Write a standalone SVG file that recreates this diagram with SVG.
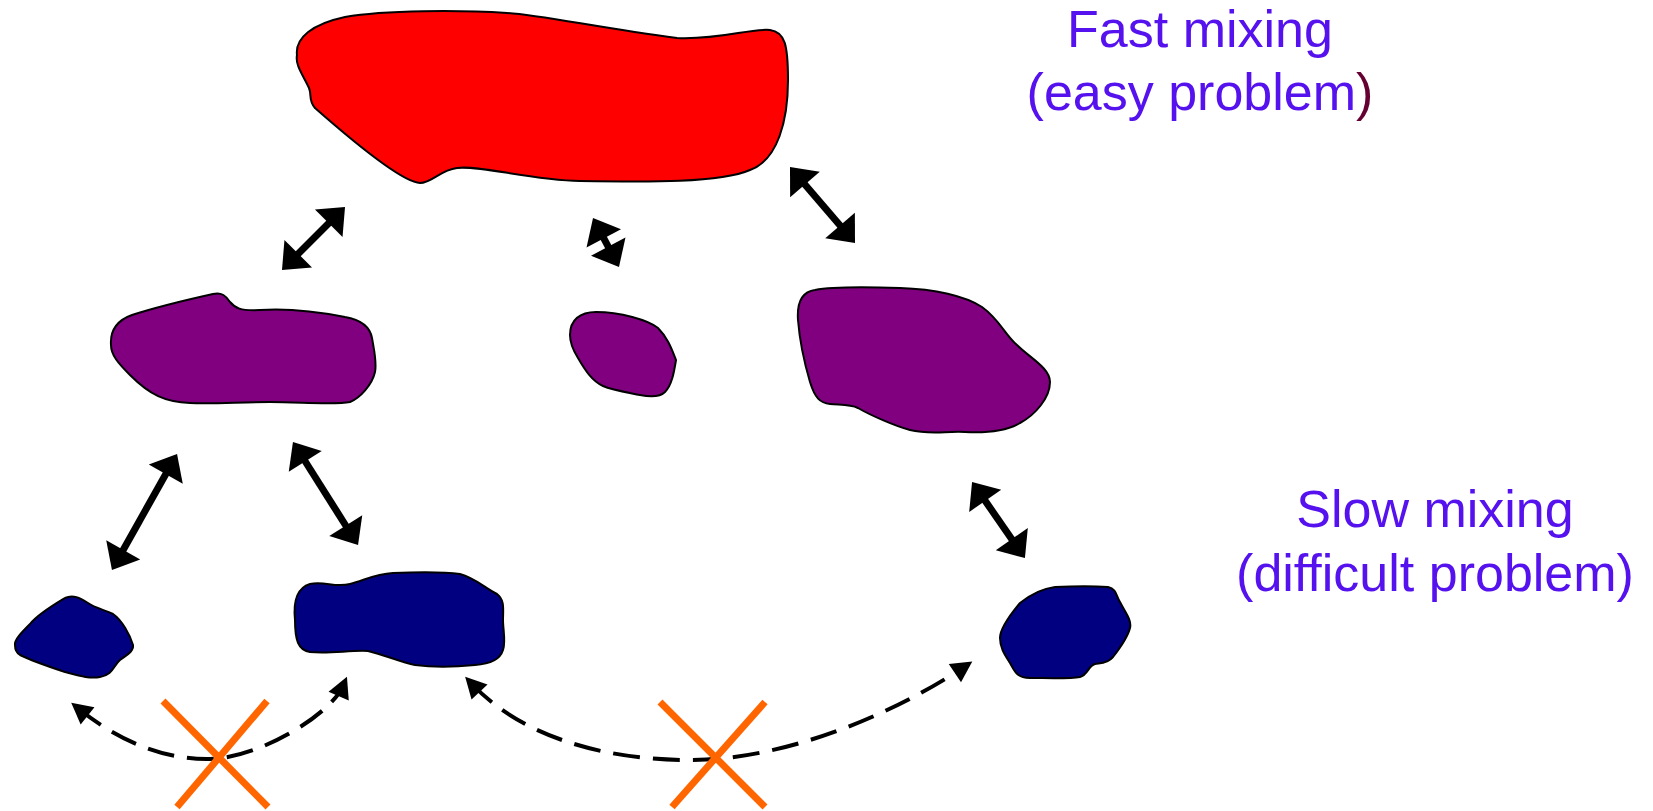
<svg xmlns="http://www.w3.org/2000/svg" width="1653" height="811" viewBox="0 0 1653 811">
<style>
.blob{stroke:#000;stroke-width:2;stroke-linejoin:round}
.red{fill:#ff0000}
.purple{fill:#800080}
.blue{fill:#000080}
.dbl{fill:none;stroke:#000;stroke-width:7;marker-start:url(#hs);marker-end:url(#he)}
.dash{fill:none;stroke:#000;stroke-width:4;stroke-dasharray:27 13;marker-start:url(#ds);marker-end:url(#de)}
.cross{stroke:#ff6600;stroke-width:7;fill:none}
.lbl{font-family:"Liberation Sans",Arial,sans-serif;font-size:52px;fill:#5511ee;text-anchor:middle}
</style>
<defs>
<marker id="he" markerUnits="userSpaceOnUse" markerWidth="24" markerHeight="40" refX="7" refY="19.5" orient="auto" overflow="visible"><path d="M0,0 L23,19.5 L0,39 Z" fill="#000"/></marker>
<marker id="hs" markerUnits="userSpaceOnUse" markerWidth="24" markerHeight="40" refX="16" refY="19.5" orient="auto" overflow="visible"><path d="M0,19.5 L23,0 L23,39 Z" fill="#000"/></marker>
<marker id="de" markerUnits="userSpaceOnUse" markerWidth="22" markerHeight="23" refX="11" refY="11" orient="auto" overflow="visible"><path d="M0,0 L21,11 L0,22 Z" fill="#000"/></marker>
<marker id="ds" markerUnits="userSpaceOnUse" markerWidth="22" markerHeight="23" refX="10" refY="11" orient="auto" overflow="visible"><path d="M0,11 L21,0 L21,22 Z" fill="#000"/></marker>
</defs>
<g id="red-blob"><path class="blob red" d="M297,55 C295,38 312,24 345,17 C385,10 460,10 507,13 C540,15 600,28 677,38 C720,40 750,28 770,30 C785,32 788,45 788,80 C788,120 778,160 750,170 C720,183 650,182 580,181 C530,180 480,165 457,168 C440,170 432,183 420,183 C400,182 340,130 315,108 C308,100 312,95 309,88 C303,75 295,65 297,55 Z"/></g>
<g id="purple-left"><path class="blob purple" d="M111,345 C110,330 118,320 132,315 C160,306 195,298 213,294 C222,292 226,296 230,302 C235,308 240,311 260,310 C290,308 320,312 345,317 C362,320 370,327 372,338 C374,350 377,362 375,372 C372,385 360,398 350,402 C335,405 300,402 270,402 C240,402 215,404 190,403 C165,402 150,395 130,375 C118,363 111,355 111,345 Z"/></g>
<g id="purple-mid"><path class="blob purple" d="M570,335 C570,320 580,312 596,312 C620,312 648,320 658,328 C668,338 672,350 676,360 C674,372 672,385 665,392 C660,397 650,397 640,395 C625,392 612,390 603,386 C592,381 585,370 578,358 C573,350 570,343 570,335 Z"/></g>
<g id="purple-right"><path class="blob purple" d="M798,320 C797,305 800,292 815,290 C835,286 870,287 900,288 C935,289 965,296 982,307 C1000,320 1005,335 1017,345 C1030,358 1050,368 1050,382 C1050,398 1035,415 1020,423 C1005,432 985,433 965,432 C945,431 930,435 910,430 C895,426 870,415 858,408 C850,404 840,405 830,404 C820,403 815,398 810,382 C805,365 800,345 798,320 Z"/></g>
<g id="blue-left"><path class="blob blue" d="M15,645 C14,640 22,632 30,624 C38,614 55,604 65,598 C73,594 80,598 88,603 C95,608 105,610 113,614 C122,620 130,635 133,645 C134,652 125,656 120,660 C113,666 113,675 100,677 C90,679 80,676 65,672 C50,667 30,660 20,655 C15,652 15,648 15,645 Z"/></g>
<g id="blue-mid"><path class="blob blue" d="M295,620 C293,600 297,588 310,584 C325,581 335,588 350,584 C365,580 375,574 393,573 C420,572 445,572 460,574 C475,578 485,588 497,594 C505,600 503,610 503,620 C503,630 506,642 503,650 C500,660 490,664 475,665 C455,667 430,667 415,665 C400,662 385,655 368,651 C350,650 330,654 310,652 C298,650 295,640 295,620 Z"/></g>
<g id="blue-right"><path class="blob blue" d="M1000,638 C1000,628 1010,615 1020,603 C1030,595 1040,589 1055,587 C1075,586 1095,586 1108,587 C1117,589 1116,596 1120,602 C1125,612 1132,620 1130,628 C1128,636 1120,648 1113,657 C1107,664 1100,663 1095,664 C1088,666 1088,675 1080,677 C1070,679 1045,678 1030,678 C1017,678 1015,672 1010,663 C1005,655 1000,648 1000,638 Z"/></g>
<g id="connectors">
<path class="dbl" d="M293.3,258.7 L333.7,218.3"/>
<path class="dbl" d="M600.5,232.1 L611.5,252.9"/>
<path class="dbl" d="M800.4,179.2 L844.6,230.8"/>
<path class="dbl" d="M169.2,468 L119.8,556"/>
<path class="dbl" d="M301.5,455.5 L349.5,531.5"/>
<path class="dbl" d="M981.2,495.1 L1015.8,544.9"/>
<path class="dash" d="M79,709 C115,738 160,760 210,759 C260,758 331,714 343,686"/>
<path class="dash" d="M472,684 C520,735 600,760 690,760 C790,760 900,710 964,667"/>
</g>
<g id="cross-left"><path class="cross" d="M163,701 L268,807 M267,701 L177,807"/></g>
<g id="cross-right"><path class="cross" d="M660,702 L765,807 M765,702 L672,807"/></g>
<g id="label-fast"><text class="lbl" x="1200" y="47">Fast mixing</text><text class="lbl" x="1200" y="110">(easy problem<tspan fill="#660033">)</tspan></text></g>
<g id="label-slow"><text class="lbl" x="1435" y="527">Slow mixing</text><text class="lbl" x="1435" y="591">(difficult problem)</text></g>
</svg>
